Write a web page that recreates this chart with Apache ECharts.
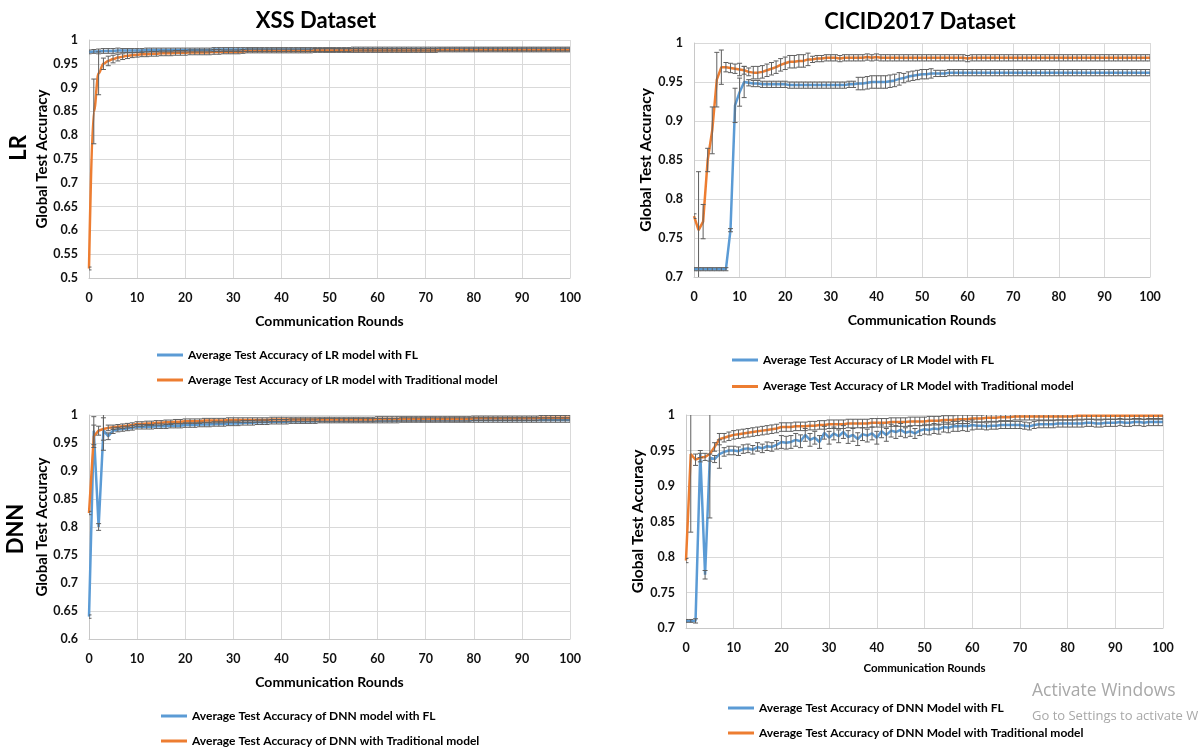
<!DOCTYPE html>
<html><head><meta charset="utf-8">
<script src="https://cdn.jsdelivr.net/npm/echarts@6/dist/echarts.min.js"></script>
<style>html,body{margin:0;padding:0;background:#fff}#c{width:1199px;height:749px}</style>
</head><body><div id="c"></div>
<script>
// ---------- DATA ----------
const rounds = Array.from({length: 101}, (_, i) => i); // communication round index 0..100
const xTicks = [0,10,20,30,40,50,60,70,80,90,100];

const seriesNames = {
  xssLrFL: 'Average Test Accuracy of LR model with FL',
  xssLrTrad: 'Average Test Accuracy of LR model with Traditional model',
  cicLrFL: 'Average Test Accuracy of LR Model with FL',
  cicLrTrad: 'Average Test Accuracy of LR Model with Traditional model',
  xssDnnFL: 'Average Test Accuracy of DNN model with FL',
  xssDnnTrad: 'Average Test Accuracy of DNN with Traditional model',
  cicDnnFL: 'Average Test Accuracy of DNN Model with FL',
  cicDnnTrad: 'Average Test Accuracy of DNN Model with Traditional model'
};

// XSS dataset, LR
const xssLrFL = [
 0.975,0.976,0.976,0.977,0.977,0.977,0.978,0.978,0.978,0.978,
 0.978,0.978,0.979,0.979,0.979,0.979,0.979,0.979,0.979,0.979,
 0.979,0.979,0.979,0.979,0.979,0.979,0.980,0.980,0.980,0.980,
 0.980,0.980,0.980,0.980,0.980,0.980,0.980,0.980,0.980,0.980,
 0.980,0.980,0.980,0.980,0.980,0.980,0.980,0.980,0.980,0.980,
 0.980,0.980,0.980,0.980,0.980,0.981,0.981,0.981,0.981,0.981,
 0.981,0.981,0.981,0.981,0.981,0.981,0.981,0.981,0.981,0.981,
 0.981,0.981,0.981,0.981,0.981,0.981,0.981,0.981,0.981,0.981,
 0.981,0.981,0.981,0.981,0.981,0.981,0.981,0.981,0.981,0.981,
 0.981,0.981,0.981,0.981,0.981,0.981,0.981,0.981,0.981,0.981,
 0.981];
const xssLrTrad = [
 0.520,0.850,0.930,0.950,0.956,0.960,0.963,0.965,0.967,0.968,
 0.969,0.970,0.970,0.971,0.971,0.972,0.972,0.972,0.973,0.973,
 0.973,0.974,0.974,0.974,0.974,0.974,0.975,0.975,0.975,0.975,
 0.975,0.975,0.976,0.977,0.977,0.977,0.977,0.977,0.977,0.977,
 0.977,0.977,0.977,0.977,0.977,0.977,0.977,0.978,0.978,0.978,
 0.978,0.978,0.978,0.978,0.978,0.978,0.978,0.978,0.978,0.978,
 0.978,0.978,0.978,0.978,0.978,0.978,0.978,0.978,0.978,0.978,
 0.978,0.978,0.978,0.979,0.979,0.979,0.979,0.979,0.979,0.979,
 0.979,0.979,0.979,0.979,0.979,0.979,0.979,0.979,0.979,0.979,
 0.979,0.979,0.979,0.979,0.979,0.979,0.979,0.979,0.979,0.979,
 0.979];
// error bar half-heights, in thousandths of accuracy
const xssLrFLErr = [
 4,4,5,5,5,5,5,4,4,4, 4,4,4,4,4,4,4,4,4,4, 4,4,4,4,4,4,4,4,4,4, 4,4,4,4,4,4,4,4,4,4,
 4,4,4,4,4,4,4,4,4,4, 4,4,4,4,4,4,4,4,4,4, 4,4,4,4,4,4,4,4,4,4, 4,4,4,4,4,4,4,4,4,4,
 4,4,4,4,4,4,4,4,4,4, 4,4,4,4,4,4,4,4,4,4, 4];
const xssLrTradErr = [
 3,68,45,12,10,8,7,6,6,5, 5,5,5,5,5,5,5,5,5,5, 5,5,5,5,5,5,5,5,4,4, 4,4,4,4,4,4,4,4,4,4,
 4,4,4,4,4,4,4,4,4,4, 4,4,4,4,4,4,4,4,4,4, 4,4,4,4,4,4,4,4,4,4, 4,4,4,4,4,4,4,4,4,4,
 4,4,4,4,4,4,4,4,4,4, 4,4,4,4,4,4,4,4,4,4, 4];

// CICID2017 dataset, LR
const cicLrFL = [
 0.710,0.710,0.710,0.710,0.710,0.710,0.710,0.710,0.760,0.920,
 0.937,0.950,0.949,0.948,0.948,0.947,0.947,0.947,0.947,0.947,
 0.947,0.946,0.946,0.946,0.946,0.946,0.946,0.946,0.946,0.946,
 0.946,0.946,0.946,0.946,0.947,0.947,0.948,0.948,0.949,0.950,
 0.950,0.950,0.950,0.951,0.952,0.954,0.955,0.957,0.958,0.959,
 0.960,0.960,0.961,0.961,0.961,0.961,0.962,0.962,0.962,0.962,
 0.962,0.962,0.962,0.962,0.962,0.962,0.962,0.962,0.962,0.962,
 0.962,0.962,0.962,0.962,0.962,0.962,0.962,0.962,0.962,0.962,
 0.962,0.962,0.962,0.962,0.962,0.962,0.962,0.962,0.962,0.962,
 0.962,0.962,0.962,0.962,0.962,0.962,0.962,0.962,0.962,0.962,
 0.962];
const cicLrTrad = [
 0.778,0.760,0.771,0.850,0.888,0.953,0.969,0.969,0.968,0.967,
 0.966,0.965,0.963,0.962,0.962,0.963,0.965,0.967,0.969,0.972,
 0.974,0.976,0.976,0.977,0.977,0.979,0.979,0.980,0.980,0.981,
 0.981,0.981,0.980,0.981,0.981,0.981,0.981,0.981,0.982,0.981,
 0.982,0.981,0.981,0.981,0.981,0.981,0.981,0.981,0.981,0.981,
 0.981,0.981,0.981,0.981,0.981,0.981,0.981,0.981,0.981,0.981,
 0.980,0.981,0.981,0.981,0.981,0.981,0.981,0.981,0.981,0.981,
 0.981,0.981,0.981,0.981,0.981,0.981,0.981,0.981,0.981,0.981,
 0.981,0.981,0.981,0.981,0.981,0.981,0.981,0.981,0.981,0.981,
 0.981,0.981,0.981,0.981,0.981,0.981,0.981,0.981,0.981,0.981,
 0.981];
const cicLrFLErr = [
 2,2,2,2,2,2,2,2,2,22, 18,20,4,4,4,4,4,4,4,4, 4,4,4,4,4,4,4,4,4,4, 4,4,4,4,4,4,8,8,8,8,
 8,8,8,8,8,8,6,6,6,6, 6,6,6,4,4,4,4,4,4,4, 4,4,4,4,4,4,4,4,4,4, 4,4,4,4,4,4,4,4,4,4,
 4,4,4,4,4,4,4,4,4,4, 4,4,4,4,4,4,4,4,4,4, 4];
const cicLrTradErr = [
 3,75,22,15,30,35,22,6,6,6, 8,5,5,8,8,8,8,8,8,8, 8,8,8,8,8,8,4,4,4,4, 4,4,4,4,4,4,4,4,4,4,
 4,4,4,4,4,4,4,4,4,4, 4,4,4,4,4,4,4,4,4,4, 4,4,4,4,4,4,4,4,4,4, 4,4,4,4,4,4,4,4,4,4,
 4,4,4,4,4,4,4,4,4,4, 4,4,4,4,4,4,4,4,4,4, 4];

// XSS dataset, DNN
const xssDnnFL = [
 0.640,0.972,0.800,0.972,0.962,0.972,0.974,0.975,0.976,0.977,
 0.979,0.979,0.979,0.979,0.980,0.980,0.980,0.981,0.981,0.981,
 0.982,0.982,0.982,0.983,0.983,0.983,0.984,0.984,0.984,0.985,
 0.985,0.985,0.986,0.986,0.986,0.987,0.987,0.987,0.988,0.988,
 0.988,0.988,0.989,0.989,0.989,0.989,0.989,0.989,0.990,0.990,
 0.990,0.990,0.990,0.990,0.990,0.990,0.990,0.990,0.990,0.990,
 0.990,0.990,0.990,0.990,0.990,0.991,0.991,0.991,0.991,0.991,
 0.991,0.991,0.991,0.991,0.991,0.991,0.991,0.991,0.991,0.991,
 0.991,0.991,0.991,0.991,0.991,0.991,0.991,0.991,0.991,0.991,
 0.991,0.991,0.991,0.991,0.991,0.991,0.991,0.991,0.991,0.991,
 0.991];
const xssDnnTrad = [
 0.825,0.962,0.972,0.975,0.977,0.978,0.979,0.980,0.981,0.982,
 0.984,0.984,0.985,0.985,0.986,0.986,0.987,0.987,0.988,0.988,
 0.989,0.989,0.989,0.989,0.990,0.990,0.990,0.990,0.990,0.991,
 0.991,0.991,0.991,0.991,0.991,0.991,0.991,0.991,0.992,0.992,
 0.992,0.992,0.992,0.992,0.992,0.992,0.992,0.992,0.992,0.992,
 0.992,0.992,0.992,0.992,0.992,0.992,0.992,0.992,0.992,0.992,
 0.993,0.993,0.993,0.993,0.993,0.993,0.993,0.993,0.993,0.993,
 0.993,0.993,0.993,0.993,0.993,0.993,0.993,0.993,0.993,0.993,
 0.994,0.994,0.994,0.994,0.994,0.994,0.994,0.994,0.994,0.994,
 0.994,0.994,0.994,0.994,0.995,0.995,0.995,0.995,0.995,0.995,
 0.995];
const xssDnnFLErr = [
 3,25,6,35,6,5,4,4,4,4, 4,4,4,4,4,4,4,4,4,4, 4,4,4,4,4,4,4,4,4,4, 4,4,4,4,4,4,4,4,4,4,
 4,4,4,4,4,4,4,4,4,4, 4,4,4,4,4,4,4,4,4,4, 4,4,4,4,4,4,4,4,4,4, 4,4,4,4,4,4,4,4,4,4,
 4,4,4,4,4,4,4,4,4,4, 4,4,4,4,4,4,4,4,4,4, 4];
const xssDnnTradErr = [
 3,20,8,20,5,4,4,4,4,4, 4,4,4,4,4,4,4,4,4,4, 4,4,4,4,4,4,4,4,4,4, 4,4,4,4,4,4,4,4,4,4,
 4,4,4,4,4,4,4,4,4,4, 4,4,4,4,4,4,4,4,4,4, 4,4,4,4,4,4,4,4,4,4, 4,4,4,4,4,4,4,4,4,4,
 4,4,4,4,4,4,4,4,4,4, 4,4,4,4,4,4,4,4,4,4, 4];

// CICID2017 dataset, DNN
const cicDnnFL = [
 0.710,0.710,0.710,0.945,0.775,0.940,0.938,0.945,0.948,0.950,
 0.950,0.949,0.952,0.953,0.951,0.955,0.953,0.956,0.955,0.958,
 0.962,0.961,0.962,0.965,0.963,0.972,0.965,0.968,0.962,0.975,
 0.968,0.974,0.970,0.976,0.969,0.972,0.966,0.973,0.971,0.974,
 0.968,0.977,0.972,0.978,0.976,0.979,0.975,0.977,0.974,0.978,
 0.980,0.979,0.981,0.980,0.983,0.982,0.984,0.984,0.985,0.984,
 0.986,0.985,0.985,0.984,0.985,0.985,0.986,0.986,0.986,0.986,
 0.986,0.985,0.984,0.986,0.987,0.987,0.987,0.987,0.988,0.988,
 0.988,0.988,0.988,0.988,0.989,0.989,0.988,0.988,0.989,0.989,
 0.989,0.990,0.989,0.989,0.990,0.990,0.989,0.990,0.990,0.990,
 0.990];
const cicDnnTrad = [
 0.795,0.945,0.937,0.940,0.941,0.945,0.955,0.966,0.968,0.970,
 0.972,0.973,0.974,0.975,0.976,0.977,0.978,0.979,0.980,0.981,
 0.983,0.983,0.983,0.984,0.984,0.984,0.985,0.985,0.986,0.986,
 0.987,0.987,0.987,0.987,0.988,0.988,0.988,0.988,0.988,0.989,
 0.989,0.989,0.989,0.990,0.990,0.990,0.990,0.991,0.991,0.991,
 0.991,0.992,0.992,0.992,0.993,0.993,0.993,0.994,0.994,0.994,
 0.995,0.995,0.995,0.996,0.996,0.996,0.997,0.997,0.997,0.998,
 0.998,0.998,0.998,0.998,0.998,0.998,0.998,0.998,0.998,0.998,
 0.998,0.998,0.999,0.999,0.999,0.999,0.999,0.999,0.999,0.999,
 0.999,0.999,0.999,0.999,0.999,0.999,0.999,0.999,0.999,0.999,
 0.999];
const cicDnnFLErr = [
 2,2,3,5,6,5,5,20,6,6, 6,6,6,6,6,6,6,6,6,6, 9,9,9,9,9,9,9,9,9,9, 9,9,9,9,9,9,9,9,9,9,
 9,9,9,9,9,9,7,7,7,7, 7,7,7,7,7,7,7,7,7,7, 7,5,5,5,5,5,5,5,5,5, 5,5,5,5,5,5,5,5,5,5,
 5,5,5,5,5,5,5,5,5,5, 5,5,5,5,5,5,5,5,5,5, 5];
const cicDnnTradErr = [
 3,110,8,6,5,90,6,8,6,6, 6,6,6,6,6,6,6,6,6,6, 6,6,6,6,6,6,6,6,6,6, 6,6,6,6,6,6,6,6,6,6,
 6,6,6,6,6,6,6,6,6,6, 6,6,6,6,6,6,6,6,6,6, 5,5,5,5,5,5,5,5,5,5, 5,5,5,5,5,5,5,5,5,5,
 5,5,5,5,5,5,5,5,5,5, 5,5,5,5,5,5,5,5,5,5, 5];

// ---------- CHART ----------
const FONT = 'Lato, "Liberation Sans", sans-serif';
const BLUE = '#5b9bd5', ORANGE = '#ed7d31', GRIDC = '#d9d9d9', ERRC = '#5f5f5f';

const panels = [
  { grid: {left: 89, top: 40, width: 481, height: 238}, ymin: 0.5, yNameSize: 15,
    fl: 'xssLrFL', tr: 'xssLrTrad', flD: xssLrFL, trD: xssLrTrad, flE: xssLrFLErr, trE: xssLrTradErr,
    legend: {left: 157, top: 348, gap: 11}, xNameGap: 36, xNameSize: 14, smooth: 0.4 },
  { grid: {left: 694, top: 43, width: 456, height: 234}, ymin: 0.7, yNameSize: 15.5,
    fl: 'cicLrFL', tr: 'cicLrTrad', flD: cicLrFL, trD: cicLrTrad, flE: cicLrFLErr, trE: cicLrTradErr,
    legend: {left: 732, top: 353, gap: 12.5}, xNameGap: 36, xNameSize: 14, smooth: false },
  { grid: {left: 89, top: 415, width: 481, height: 224}, ymin: 0.6, yNameSize: 15,
    fl: 'xssDnnFL', tr: 'xssDnnTrad', flD: xssDnnFL, trD: xssDnnTrad, flE: xssDnnFLErr, trE: xssDnnTradErr,
    legend: {left: 161, top: 709, gap: 11}, xNameGap: 36, xNameSize: 14, smooth: false },
  { grid: {left: 686, top: 415, width: 477, height: 213}, ymin: 0.7, yNameSize: 15.5,
    fl: 'cicDnnFL', tr: 'cicDnnTrad', flD: cicDnnFL, trD: cicDnnTrad, flE: cicDnnFLErr, trE: cicDnnTradErr,
    legend: {left: 728, top: 701, gap: 11}, xNameGap: 34, xNameSize: 11.5, smooth: false }
];

function fmtY(v) { return String(parseFloat(v.toFixed(2))); }

function renderErr(params, api) {
  const x = api.value(0), y = api.value(1), e = api.value(2);
  const lo = api.coord([x, y - e]);
  const hi = api.coord([x, y + e]);
  const w = 2.5;
  const st = {stroke: ERRC, lineWidth: 1};
  return {
    type: 'group',
    children: [
      {type: 'line', shape: {x1: lo[0], y1: lo[1], x2: hi[0], y2: hi[1]}, style: st},
      {type: 'line', shape: {x1: lo[0] - w, y1: lo[1], x2: lo[0] + w, y2: lo[1]}, style: st},
      {type: 'line', shape: {x1: hi[0] - w, y1: hi[1], x2: hi[0] + w, y2: hi[1]}, style: st}
    ]
  };
}

const grids = [], xAxes = [], yAxes = [], series = [], legends = [];
panels.forEach((p, k) => {
  grids.push(Object.assign({containLabel: false}, p.grid));
  xAxes.push({
    type: 'value', gridIndex: k, min: xTicks[0], max: xTicks[xTicks.length - 1], interval: 10,
    name: 'Communication Rounds', nameLocation: 'middle', nameGap: p.xNameGap,
    nameTextStyle: {fontFamily: FONT, fontWeight: 'bold', fontSize: p.xNameSize, color: '#000'},
    axisLine: {show: true, lineStyle: {color: '#c8c8c8'}}, axisTick: {show: false},
    axisLabel: {fontFamily: FONT, fontWeight: 'bold', fontSize: 12.5, color: '#111', margin: 13},
    splitLine: {show: true, lineStyle: {color: GRIDC}}
  });
  yAxes.push({
    type: 'value', gridIndex: k, min: p.ymin, max: 1, interval: 0.05,
    name: 'Global Test Accuracy', nameLocation: 'middle', nameGap: 37, nameRotate: 90,
    nameTextStyle: {fontFamily: FONT, fontWeight: 'bold', fontSize: p.yNameSize, color: '#000'},
    axisLine: {show: true, lineStyle: {color: '#c8c8c8'}}, axisTick: {show: false},
    axisLabel: {fontFamily: FONT, fontWeight: 'bold', fontSize: 12.5, color: '#111', margin: 11, formatter: fmtY},
    splitLine: {show: true, lineStyle: {color: GRIDC}}
  });
  const mk = (d) => rounds.map((r, i) => [r, d[i]]);
  const mkE = (d, e) => rounds.map((r, i) => [r, d[i], e[i] / 1000]);
  series.push({
    type: 'line', name: seriesNames[p.fl], xAxisIndex: k, yAxisIndex: k, data: mk(p.flD),
    showSymbol: false, lineStyle: {color: BLUE, width: 2.5}, itemStyle: {color: BLUE}, z: 3
  });
  series.push({
    type: 'line', name: seriesNames[p.tr], xAxisIndex: k, yAxisIndex: k, data: mk(p.trD),
    showSymbol: false, smooth: p.smooth, smoothMonotone: 'x',
    lineStyle: {color: ORANGE, width: 2.5}, itemStyle: {color: ORANGE}, z: 3
  });
  series.push({type: 'custom', xAxisIndex: k, yAxisIndex: k, data: mkE(p.flD, p.flE),
    renderItem: renderErr, clip: true, z: 4, silent: true});
  series.push({type: 'custom', xAxisIndex: k, yAxisIndex: k, data: mkE(p.trD, p.trE),
    renderItem: renderErr, clip: true, z: 4, silent: true});
  legends.push({
    orient: 'vertical', left: p.legend.left, top: p.legend.top, itemGap: p.legend.gap,
    icon: 'rect', itemWidth: 26, itemHeight: 3, padding: 0,
    data: [seriesNames[p.fl], seriesNames[p.tr]],
    textStyle: {fontFamily: FONT, fontWeight: 'bold', fontSize: 12, color: '#000', lineHeight: 14}
  });
});

const titleStyle = {fontFamily: FONT, fontWeight: 'bold', fontSize: 22, fill: '#000'};
const graphics = [
  {type: 'text', x: 316, y: 21, style: Object.assign({text: 'XSS Dataset', align: 'center', verticalAlign: 'middle'}, titleStyle)},
  {type: 'text', x: 920, y: 22, style: Object.assign({text: 'CICID2017 Dataset', align: 'center', verticalAlign: 'middle'}, titleStyle)},
  {type: 'text', x: 19, y: 148, rotation: Math.PI / 2, style: Object.assign({text: 'LR', align: 'center', verticalAlign: 'middle'}, titleStyle)},
  {type: 'text', x: 16, y: 529, rotation: Math.PI / 2, style: Object.assign({text: 'DNN', align: 'center', verticalAlign: 'middle'}, titleStyle)},
  {type: 'text', x: 1032, y: 691, style: {text: 'Activate Windows', fontFamily: '"Open Sans", sans-serif', fontSize: 17.5, fill: '#a8a8a8', verticalAlign: 'middle'}},
  {type: 'text', x: 1032, y: 716, style: {text: 'Go to Settings to activate W', fontFamily: '"Open Sans", sans-serif', fontSize: 13, fill: '#a8a8a8', verticalAlign: 'middle'}}
];

const chart = echarts.init(document.getElementById('c'), null, {renderer: 'canvas'});
chart.setOption({
  animation: false,
  backgroundColor: '#fff',
  grid: grids, xAxis: xAxes, yAxis: yAxes, series: series, legend: legends,
  graphic: {elements: graphics}
});
</script></body></html>
